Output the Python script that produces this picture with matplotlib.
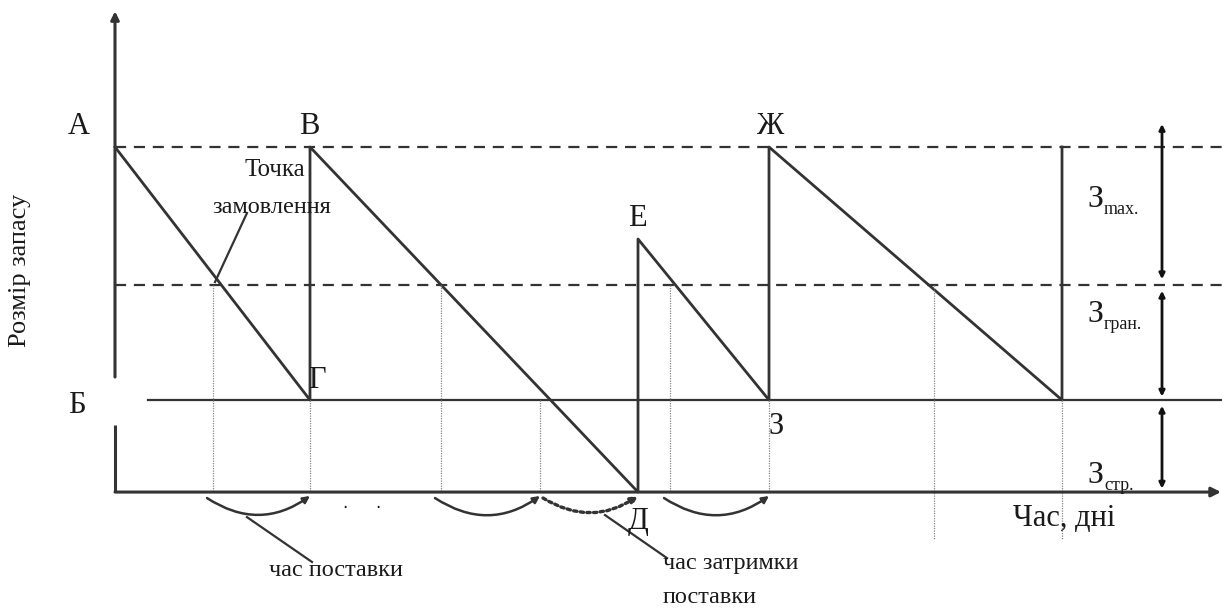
import matplotlib.pyplot as plt
from matplotlib.patches import FancyArrowPatch

# time axis: days (schematic), stock axis: units
saw_t = [0, 19.5, 19.5, 52.3, 52.3, 65.4, 65.4, 94.7, 94.7]
saw_s = [15, 4, 15, 0, 11, 4, 15, 4, 15]

stock_max = 15
stock_threshold = 9
stock_safety = 4

order_t = [9.8, 32.6, 55.5, 81.9]
arrival_t = [19.5, 42.5, 65.4, 94.7]
delayed_arrival_t = 52.3

t_min, t_max = -11.5, 110.7
s_min, s_max = -5.04, 21.39

line_c = '#333333'
text_c = '#1a1a1a'
serif = 'Liberation Serif'

fig = plt.figure(figsize=(12.22, 6.08), dpi=100)
ax = fig.add_axes([0, 0, 1, 1])
ax.set_xlim(t_min, t_max)
ax.set_ylim(s_min, s_max)
ax.axis('off')

# axes with arrows
ax.annotate('', xy=(t_max - 0.1, 0), xytext=(0, 0),
            arrowprops=dict(arrowstyle='-|>', color=line_c, lw=2.2, mutation_scale=14, shrinkA=0, shrinkB=0))
ax.plot([0, 0], [0, 2.91], color=line_c, lw=2.2, solid_capstyle='butt')
ax.annotate('', xy=(0, 20.9), xytext=(0, 5.0),
            arrowprops=dict(arrowstyle='-|>', color=line_c, lw=2.2, mutation_scale=12, shrinkA=0, shrinkB=0))

# levels
ax.plot([3.3, t_max], [stock_safety, stock_safety], color=line_c, lw=1.6)
ax.plot([0, t_max], [stock_max, stock_max], color=line_c, lw=1.6, ls=(0, (5, 3.5)))
ax.plot([0, t_max], [stock_threshold, stock_threshold], color=line_c, lw=1.6, ls=(0, (5, 3.5)))

# stock sawtooth
ax.plot(saw_t, saw_s, color=line_c, lw=2.0)

# dotted guides
for i, t in enumerate(order_t):
    bottom = -2.1 if i == len(order_t) - 1 else 0
    ax.plot([t, t], [stock_threshold, bottom], color='#888888', lw=0.9, ls=(0, (1, 1)))
for i, t in enumerate(arrival_t):
    bottom = -2.1 if i == len(arrival_t) - 1 else 0
    ax.plot([t, t], [stock_safety, bottom], color='#888888', lw=0.9, ls=(0, (1, 1)))

# delivery time arcs
for t0, t1 in zip(order_t[:3], arrival_t[:3]):
    ax.add_patch(FancyArrowPatch((t0 - 0.6, -0.26), (t1, -0.17), connectionstyle='arc3,rad=0.34',
                                 arrowstyle='-|>', mutation_scale=10, color=line_c, lw=1.8,
                                 shrinkA=0, shrinkB=0))
ax.add_patch(FancyArrowPatch((arrival_t[1] + 0.3, -0.26), (delayed_arrival_t, -0.17),
                             connectionstyle='arc3,rad=0.32', arrowstyle='-|>', mutation_scale=10,
                             color=line_c, lw=2.4, ls=(0, (1, 1)), shrinkA=0, shrinkB=0))

# right-hand double arrows
for lo, hi in [(9.25, 16.0), (4.15, 8.75), (0.15, 3.75)]:
    ax.annotate('', xy=(104.7, hi), xytext=(104.7, lo),
                arrowprops=dict(arrowstyle='<|-|>', color='#111111', lw=2.0, mutation_scale=8,
                                shrinkA=0, shrinkB=0))

# leader lines
ax.plot([13.2, 10.0], [12.13, 9.13], color=line_c, lw=1.6)
ax.plot([13.2, 19.7], [-1.09, -3.04], color=line_c, lw=1.6)
ax.plot([49.0, 55.2], [-1.0, -2.87], color=line_c, lw=1.6)

# point labels
labels = [('А', -3.6, 15.91), ('В', 19.4, 15.91), ('Ж', 65.5, 15.87), ('Е', 52.2, 11.91),
          ('Г', 20.2, 4.87), ('Б', -3.8, 3.78), ('З', 66.1, 2.87), ('Д', 52.3, -1.30)]
for txt, x, y in labels:
    ax.text(x, y, txt, fontsize=22, family=serif, color=text_c, ha='center', va='center')

ax.text(16.0, 14.0, 'Точка', fontsize=18, family=serif, color=text_c, ha='center', va='center')
ax.text(15.7, 12.35, 'замовлення', fontsize=17.5, family=serif, color=text_c, ha='center', va='center')
ax.text(22.1, -3.43, 'час поставки', fontsize=17.5, family=serif, color=text_c, ha='center', va='center')
ax.text(54.8, -3.09, 'час затримки', fontsize=17.5, family=serif, color=text_c, ha='left', va='center')
ax.text(54.8, -4.6, 'поставки', fontsize=17.5, family=serif, color=text_c, ha='left', va='center')
ax.text(89.8, -1.13, 'Час, дні', fontsize=22, family=serif, color=text_c, ha='left', va='center')
ax.text(23.0, -0.48, '.', fontsize=12, color=text_c, ha='center', va='center')
ax.text(26.3, -0.48, '.', fontsize=12, color=text_c, ha='center', va='center')

for sub, y in [('max.', 12.7), ('гран.', 7.7), ('стр.', 0.7)]:
    ax.text(97.2, y, 'З', fontsize=23, family=serif, color=text_c, ha='left', va='center')
    ax.text(98.9, y - 0.4, sub, fontsize=13, family=serif, color=text_c, ha='left', va='center')

ax.text(-9.5, 9.65, 'Розмір запасу', fontsize=19, family=serif, color=text_c,
        rotation=90, ha='center', va='center')

fig.savefig('out.png', dpi=100)
